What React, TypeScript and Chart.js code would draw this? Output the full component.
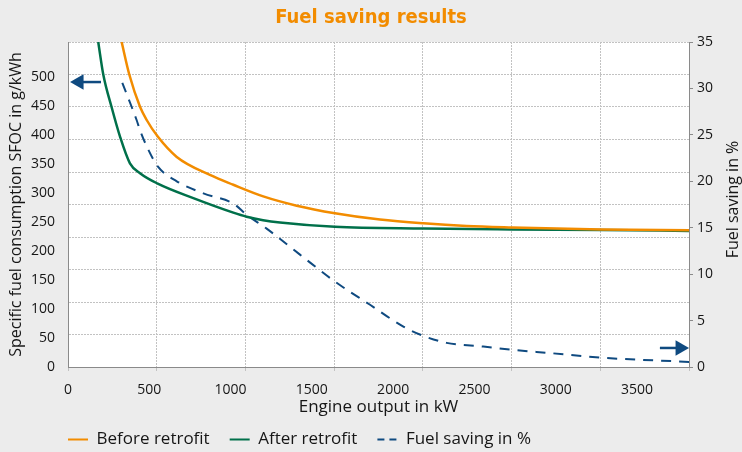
import React, { useEffect, useRef } from "react";
import { Chart, registerables } from "chart.js";

Chart.register(...registerables);

// ---- text ----
const chartTitle = "Fuel saving results";
const xAxisTitle = "Engine output in kW";
const leftAxisTitle = "Specific fuel consumption SFOC in g/kWh";
const rightAxisTitle = "Fuel saving in %";
const beforeLabel = "Before retrofit";
const afterLabel = "After retrofit";
const savingLabel = "Fuel saving in %";

// ---- axes ----
const xTickValues = [0, 500, 1000, 1500, 2000, 2500, 3000, 3500];
const leftTickValues = [0, 50, 100, 150, 200, 250, 300, 350, 400, 450, 500];
const rightTickValues = [0, 5, 10, 15, 20, 25, 30, 35];
const X_MAX = 3820;
const LEFT_MAX = 560;
const RIGHT_MAX = 35;
const GRID_COLS = [0, 1, 2, 3, 4, 5, 6, 7];
const GRID_ROWS = [0, 1, 2, 3, 4, 5, 6, 7, 8, 9, 10];

// ---- series ----
const beforeKW = [330, 377, 443, 484, 552, 669, 873, 1017, 1201, 1407, 1642, 1919, 2186, 2452, 2733, 3281, 3822];
const beforeSFOC = [560, 504, 448.5, 425.6, 397, 362, 331, 314, 294, 278, 265, 254, 247.5, 243, 240.5, 237, 235.5];

const afterKW = [186, 217, 268, 320, 381, 443, 552, 771, 1017, 1099, 1200, 1304, 1642, 2186, 2733, 3281, 3822];
const afterSFOC = [560, 504, 448, 397, 351, 334, 316, 291, 266, 259, 253, 249, 241.5, 238.5, 237, 236, 234.5];

const savingKW = [334, 392, 422, 443, 494, 552, 669, 833, 1017, 1099, 1222, 1427, 1642, 1858, 2063, 2186, 2329, 2555, 2733, 2965, 3281, 3822];
const savingPct = [30.6, 28.0, 26.6, 25.5, 23.4, 21.6, 20.0, 18.7, 17.6, 16.4, 14.9, 12.1, 9.2, 6.7, 4.35, 3.35, 2.6, 2.2, 1.85, 1.5, 1.0, 0.55];

// ---- axis indicator arrows (annotation) ----
const leftArrowKW = [203, 68];
const leftArrowSFOC = [491, 491];
const rightArrowKW = [3641, 3765];
const rightArrowPct = [2.05, 2.05];

const FONT = "'Open Sans', 'Noto Sans', sans-serif";
const ORANGE = "#f28c00";
const GREEN = "#00704a";
const BLUE = "#0f4a80";
const GRID = "#c2c2c2";
const AXIS = "#8a8a8a";
const TEXT = "#161616";
const SAVING_DASH = [10, 8];
const LEGEND_DASH = [7, 5];

const pts = (xs: number[], ys: number[]) => xs.map((x, i) => ({ x, y: ys[i] }));

const plotBg = {
  id: "plotBg",
  beforeDraw(chart: any) {
    const { ctx, chartArea: a } = chart;
    ctx.save();
    ctx.fillStyle = "#ffffff";
    ctx.fillRect(a.left, a.top, a.right - a.left, a.bottom - a.top);
    ctx.restore();
  },
};

const legendShift = {
  id: "legendShift",
  afterLayout(chart: any) {
    const l = chart.legend;
    if (!l) return;
    l.left -= 20;
    l.right -= 20;
    l.top -= 11;
  },
};

const rightTitle = {
  id: "rightTitle",
  afterDraw(chart: any) {
    const { ctx, chartArea: a } = chart;
    const s = chart.scales.y2;
    ctx.save();
    ctx.translate(s.right - 9, (a.top + a.bottom) / 2 - 5);
    ctx.rotate(-Math.PI / 2);
    ctx.font = `16px ${FONT}`;
    ctx.fillStyle = TEXT;
    ctx.textAlign = "center";
    ctx.textBaseline = "middle";
    ctx.fillText(rightAxisTitle, 0, 0);
    ctx.restore();
  },
};

const lineDs = (label: string, xs: number[], ys: number[], axis: string, color: string, extra: any = {}) => ({
  label,
  data: pts(xs, ys),
  xAxisID: "x",
  yAxisID: axis,
  borderColor: color,
  backgroundColor: color,
  borderWidth: 2.5,
  pointRadius: 0,
  cubicInterpolationMode: "monotone",
  ...extra,
});

const arrowDs = (label: string, xs: number[], ys: number[], axis: string, rotation: number) => ({
  label,
  data: pts(xs, ys),
  xAxisID: "x",
  yAxisID: axis,
  borderColor: BLUE,
  backgroundColor: BLUE,
  borderWidth: 2.5,
  pointRadius: [0, 9],
  pointStyle: "triangle",
  pointRotation: rotation,
  pointBorderWidth: 0,
  pointBackgroundColor: BLUE,
  clip: false,
});

export default function App() {
  const ref = useRef<HTMLCanvasElement>(null);

  useEffect(() => {
    document.body.style.margin = "0";
    const canvas = ref.current;
    if (!canvas) return;
    const chart = new Chart(canvas, {
      type: "line",
      data: {
        datasets: [
          lineDs(beforeLabel, beforeKW, beforeSFOC, "y", ORANGE),
          lineDs(afterLabel, afterKW, afterSFOC, "y", GREEN),
          lineDs(savingLabel, savingKW, savingPct, "y2", BLUE, { borderWidth: 2, borderDash: SAVING_DASH }),
          arrowDs("arrowLeft", leftArrowKW, leftArrowSFOC, "y", -90),
          arrowDs("arrowRight", rightArrowKW, rightArrowPct, "y2", 90),
        ],
      } as any,
      options: {
        responsive: false,
        animation: false,
        events: [],
        layout: { padding: 0 },
        font: { family: FONT },
        scales: {
          x: {
            type: "linear",
            position: "bottom",
            weight: 1,
            min: 0,
            max: X_MAX,
            afterBuildTicks: (s: any) => {
              s.ticks = xTickValues.map((v) => ({ value: v }));
            },
            afterFit: (s: any) => {
              s.height = 51;
            },
            ticks: {
              color: TEXT,
              font: { family: FONT, size: 14 },
              padding: 3,
              maxRotation: 0,
              autoSkip: false,
              callback: (v: any) => String(v),
            },
            grid: { display: false },
            border: { display: false },
            title: {
              display: true,
              text: xAxisTitle,
              color: TEXT,
              font: { family: FONT, size: 17 },
              padding: { top: 5, bottom: 5 },
            },
          },
          xg: {
            type: "linear",
            position: "bottom",
            weight: 0,
            min: 0,
            max: GRID_COLS[GRID_COLS.length - 1],
            afterBuildTicks: (s: any) => {
              s.ticks = GRID_COLS.map((v) => ({ value: v }));
            },
            ticks: { display: false },
            grid: { color: GRID, lineWidth: 1, drawTicks: true, tickLength: 4 },
            border: { display: true, color: AXIS, width: 1, dash: [2, 1] },
          },
          y: {
            type: "linear",
            position: "left",
            weight: 1,
            min: 0,
            max: LEFT_MAX,
            afterBuildTicks: (s: any) => {
              s.ticks = leftTickValues.map((v) => ({ value: v }));
            },
            afterFit: (s: any) => {
              s.width = 68;
            },
            ticks: {
              color: TEXT,
              font: { family: FONT, size: 14 },
              padding: 5,
              autoSkip: false,
              callback: (v: any) => String(v),
            },
            grid: { display: false },
            border: { display: false },
            title: {
              display: true,
              text: leftAxisTitle,
              color: TEXT,
              font: { family: FONT, size: 16 },
              padding: { top: 7, bottom: 7 },
            },
          },
          yg: {
            type: "linear",
            position: "left",
            weight: 0,
            min: 0,
            max: GRID_ROWS[GRID_ROWS.length - 1],
            afterBuildTicks: (s: any) => {
              s.ticks = GRID_ROWS.map((v) => ({ value: v }));
            },
            afterFit: (s: any) => {
              s.width = 0;
            },
            ticks: { display: false },
            grid: { color: GRID, lineWidth: 1, drawTicks: false },
            border: { display: true, color: AXIS, width: 1, dash: [2, 1] },
          },
          y2: {
            type: "linear",
            position: "right",
            min: 0,
            max: RIGHT_MAX,
            afterBuildTicks: (s: any) => {
              s.ticks = rightTickValues.map((v) => ({ value: v }));
            },
            afterFit: (s: any) => {
              s.width = 53;
            },
            ticks: {
              color: TEXT,
              font: { family: FONT, size: 14 },
              padding: 4,
              autoSkip: false,
              callback: (v: any) => String(v),
            },
            grid: { drawOnChartArea: false, drawTicks: true, tickLength: 4, color: AXIS },
            border: { display: true, color: AXIS, width: 1 },
          },
        },
        plugins: {
          title: {
            display: true,
            text: chartTitle,
            color: ORANGE,
            font: { family: "'Liberation Sans Narrow', 'DejaVu Sans Condensed', " + FONT, size: 20, weight: "bold" },
            padding: { top: 6, bottom: 12 },
          },
          legend: {
            display: true,
            position: "bottom",
            align: "start",
            fullSize: false,
            maxHeight: 30,
            labels: {
              usePointStyle: true,
              pointStyle: "line",
              pointStyleWidth: 20,
              padding: 20,
              color: TEXT,
              font: { family: FONT, size: 17 },
              filter: (item: any) => item.datasetIndex < 3,
              generateLabels: (chart: any) => {
                const items = (Chart as any).defaults.plugins.legend.labels.generateLabels(chart);
                return items.map((it: any) => {
                  const ds = chart.data.datasets[it.datasetIndex];
                  return {
                    ...it,
                    strokeStyle: ds.borderColor,
                    lineWidth: 2,
                    lineDash: ds.borderDash ? LEGEND_DASH : [],
                  };
                });
              },
            },
          },
          tooltip: { enabled: false },
        },
      } as any,
      plugins: [plotBg, legendShift, rightTitle],
    });
    return () => chart.destroy();
  }, []);

  return (
    <div style={{ width: 742, height: 452, background: "#ececec" }}>
      <canvas ref={ref} width={742} height={452} style={{ display: "block" }} />
    </div>
  );
}
